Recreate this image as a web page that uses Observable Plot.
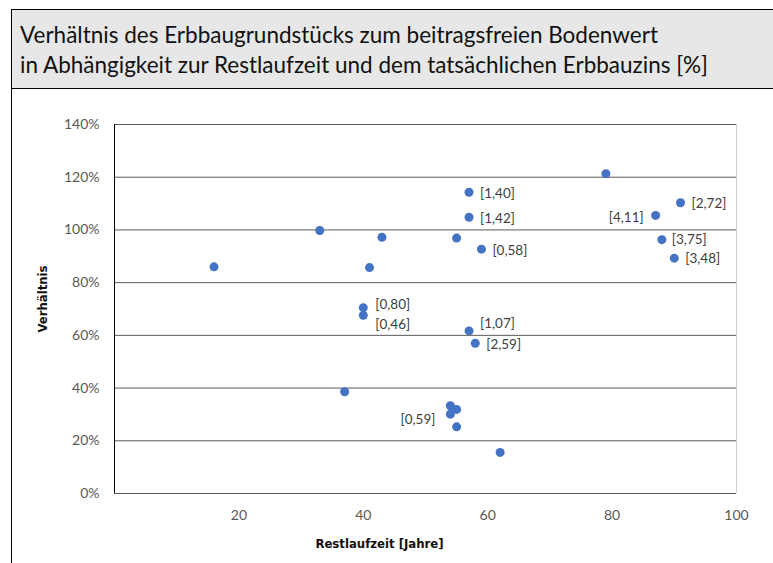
<!DOCTYPE html>
<html>
<head>
<meta charset="utf-8">
<script src="https://cdn.jsdelivr.net/npm/d3@7"></script>
<script src="https://cdn.jsdelivr.net/npm/@observablehq/plot@0.6"></script>
<style>
  html, body { margin: 0; padding: 0; background: #fff; }
  body { width: 773px; height: 563px; overflow: hidden; position: relative; }
  #frame { position: absolute; left: 11px; top: 9px; width: 762px; height: 554px;
           border-left: 1px solid #000; border-top: 1px solid #000; }
  #title { position: relative; height: 78px; background: #e7e7e7; border-bottom: 1px solid #000;
           font-family: Lato, "Open Sans", sans-serif; font-size: 22.5px; color: #111; }
  #title div { position: absolute; left: 8px; white-space: nowrap; line-height: 24px; }
  #chart svg { display: block; }
</style>
</head>
<body>
<div id="frame">
  <div id="title">
    <div id="t1" style="top:13px">Verhältnis des Erbbaugrundstücks zum beitragsfreien Bodenwert</div>
    <div id="t2" style="top:43px">in Abhängigkeit zur Restlaufzeit und dem tatsächlichen Erbbauzins [%]</div>
  </div>
  <div id="chart"></div>
</div>
<script>
// Data
const restlaufzeit = [16, 33, 43, 41, 40, 40, 37, 55, 57, 57, 59, 57, 58, 54, 55, 54, 55, 62, 79, 91, 87, 88, 90];
const verhaeltnis = [0.860, 0.998, 0.972, 0.857, 0.705, 0.676, 0.386, 0.969, 1.143, 1.048, 0.927, 0.617, 0.570, 0.333, 0.319, 0.301, 0.253, 0.156, 1.213, 1.103, 1.055, 0.963, 0.893];
const erbbauzins = ["", "", "", "", "[0,80]", "[0,46]", "", "", "[1,40]", "[1,42]", "[0,58]", "[1,07]", "[2,59]", "", "", "[0,59]", "", "", "", "[2,72]", "[4,11]", "[3,75]", "[3,48]"];
const yTicks = [0, 0.2, 0.4, 0.6, 0.8, 1.0, 1.2, 1.4];
const xTicks = [20, 40, 60, 80, 100];
const titleX = "Restlaufzeit [Jahre]";
const titleY = "Verhältnis";

const data = restlaufzeit.map((x, i) => ({x, y: verhaeltnis[i], label: erbbauzins[i]}));

// label placement (style only)
const placements = [
  {labels: ["[1,40]", "[1,42]", "[2,59]", "[2,72]", "[3,48]"], dx: 11, dy: 1, anchor: "start"},
  {labels: ["[0,58]"], dx: 11, dy: 2, anchor: "start"},
  {labels: ["[3,75]"], dx: 10, dy: 0, anchor: "start"},
  {labels: ["[0,80]"], dx: 12, dy: -3, anchor: "start"},
  {labels: ["[1,07]"], dx: 11, dy: -7, anchor: "start"},
  {labels: ["[0,46]"], dx: 12, dy: 9, anchor: "start"},
  {labels: ["[4,11]"], dx: -12, dy: 2, anchor: "end"},
  {labels: ["[0,59]"], dx: -15, dy: 6, anchor: "end"}
];

const font = "Lato, 'Open Sans', sans-serif";
const narrow = "'Liberation Sans Narrow', 'DejaVu Sans Condensed', sans-serif";

const labelMarks = placements.map(p => Plot.text(data.filter(d => p.labels.includes(d.label)), {
  x: "x", y: "y", text: "label", dx: p.dx, dy: p.dy, textAnchor: p.anchor,
  fontSize: 13.5, fill: "#404040", fontFamily: font
}));

const chart = Plot.plot({
  width: 762,
  height: 474,
  marginLeft: 102,
  marginRight: 38,
  marginTop: 35,
  marginBottom: 70,
  style: {fontFamily: font, fontSize: "14px", color: "#595959", background: "transparent"},
  x: {domain: [0, 100], ticks: xTicks, tickSize: 0, tickPadding: 17, label: null},
  y: {domain: [0, 1.4], ticks: yTicks, tickSize: 0, tickPadding: 15, tickFormat: d3.format(".0%"), label: null},
  marks: [
    Plot.ruleY(yTicks, {stroke: "#5a5a5a", strokeWidth: 1}),
    Plot.ruleX([100], {stroke: "#cfcfcf", strokeWidth: 1}),
    Plot.ruleX([0], {stroke: "#000", strokeWidth: 1}),
    Plot.dot(data, {x: "x", y: "y", r: 4.5, fill: "#4472C4", stroke: "none"}),
    ...labelMarks,
    Plot.text([titleX], {frameAnchor: "bottom-left", dx: 265, dy: 54, textAnchor: "middle", text: d => d,
      fontWeight: "bold", fontSize: 13, fill: "#111", fontFamily: narrow}),
    Plot.text([titleY], {frameAnchor: "left", dx: -72, dy: -10, rotate: -90, textAnchor: "middle", text: d => d,
      fontWeight: "bold", fontSize: 13, fill: "#111", fontFamily: narrow})
  ]
});
document.getElementById("chart").appendChild(chart);
</script>
</body>
</html>
